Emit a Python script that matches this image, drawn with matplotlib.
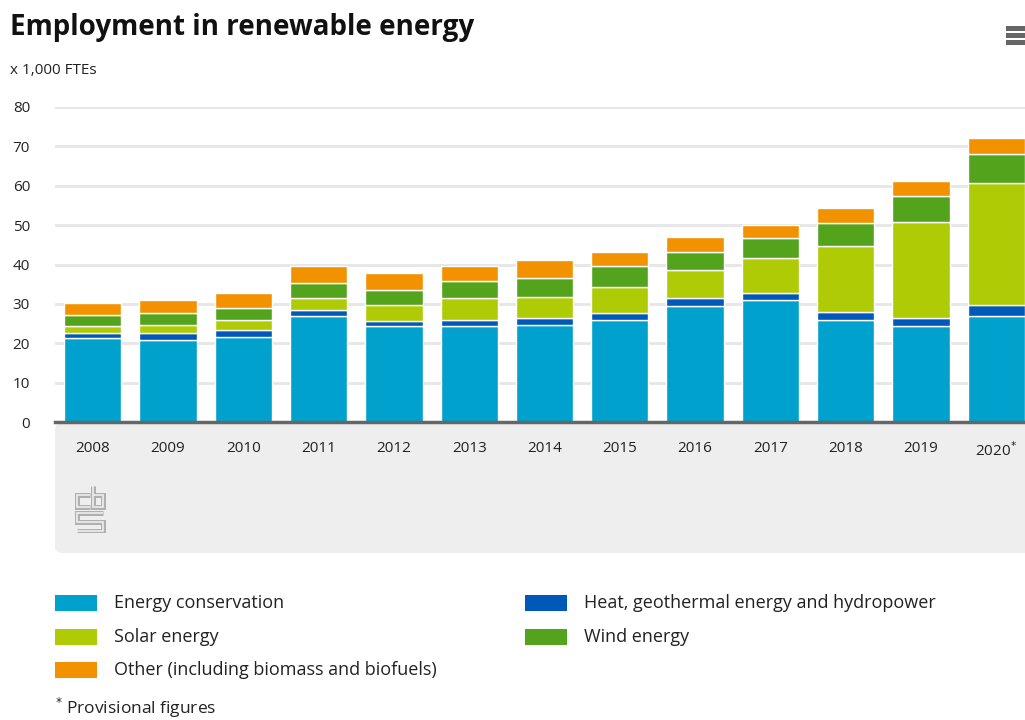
import numpy as np
import matplotlib.pyplot as plt
from matplotlib.patches import FancyBboxPatch, Rectangle

plt.rcParams['font.family'] = ['Liberation Sans Narrow', 'Open Sans', 'DejaVu Sans']

years = ['2008', '2009', '2010', '2011', '2012', '2013', '2014',
         '2015', '2016', '2017', '2018', '2019', '2020']

# employment, x 1,000 FTEs
conservation = [21.3, 20.9, 21.7, 26.8, 24.3, 24.3, 24.7, 26.0, 29.4, 31.1, 26.0, 24.3, 26.8]
heat = [1.4, 1.6, 1.6, 1.6, 1.3, 1.6, 1.6, 1.8, 2.0, 1.6, 2.0, 2.0, 2.9]
solar = [1.6, 2.1, 2.7, 3.0, 4.2, 5.5, 5.5, 6.6, 7.2, 8.9, 16.8, 24.4, 31.0]
wind = [2.9, 3.0, 2.9, 3.8, 3.8, 4.3, 4.7, 5.1, 4.7, 5.1, 5.7, 6.8, 7.4]
other = [3.0, 3.3, 3.8, 4.3, 4.3, 3.8, 4.7, 3.8, 3.8, 3.4, 3.8, 3.6, 4.1]

series = [
    ('Energy conservation', conservation, '#00a1cd'),
    ('Heat, geothermal energy and hydropower', heat, '#0058b8'),
    ('Solar energy', solar, '#afcb05'),
    ('Wind energy', wind, '#53a31d'),
    ('Other (including biomass and biofuels)', other, '#f39200'),
]

W, H = 1025, 720
fig = plt.figure(figsize=(W / 100, H / 100), dpi=100)

def fx(px):
    return px / W

def fy(py):
    return 1 - py / H

# grey band under the x axis
band = FancyBboxPatch((fx(55), fy(553)), fx(1060) - fx(55), fy(423) - fy(553),
                      boxstyle='round,pad=0,rounding_size=0.008',
                      transform=fig.transFigure, facecolor='#eeeeee',
                      edgecolor='none', zorder=-5)
fig.patches.append(band)

ax = fig.add_axes([fx(55), fy(422), fx(1034) - fx(55), fy(107) - fy(422)])
ax.set_facecolor('none')
x = np.arange(len(years))
bottom = np.zeros(len(years))
for name, vals, col in series:
    ax.bar(x, vals, width=0.76, bottom=bottom, color=col, edgecolor='white',
           linewidth=1.0, zorder=3)
    bottom += np.array(vals)

ax.set_xlim(-0.5, len(years) - 0.5)
ax.set_ylim(0, 80)
ax.set_yticks(np.arange(0, 81, 10))
ax.yaxis.grid(True, color='#e6e6e6', linewidth=2, zorder=0)
ax.set_axisbelow(True)
for s in ['top', 'right', 'left']:
    ax.spines[s].set_visible(False)
ax.spines['bottom'].set_color('#666666')
ax.spines['bottom'].set_linewidth(2.5)
ax.spines['bottom'].set_zorder(5)
ax.tick_params(axis='y', length=0, pad=18, labelsize=11, labelcolor='#222222')
ax.tick_params(axis='x', length=0, pad=14, labelsize=11, labelcolor='#222222')
xlabels = years[:-1] + [years[-1] + '$^{*}$']
ax.set_xticks(x)
ax.set_xticklabels(xlabels)

fig.text(fx(10), fy(28), 'Employment in renewable energy', fontsize=20,
         fontweight='bold', color='#111111', va='center', ha='left')
fig.text(fx(10), fy(70), 'x 1,000 FTEs', fontsize=11, color='#222222',
         va='center', ha='left')

# menu icon
for py in [28, 35, 42]:
    fig.patches.append(Rectangle((fx(1006), fy(py + 2.5)), fx(20), fy(0) - fy(5),
                                 transform=fig.transFigure, facecolor='#666666',
                                 edgecolor='none'))

# cbs logo, drawn as outlined strokes
lx = fig.add_axes([fx(75), fy(533), fx(31), fy(0) - fy(48)])
lx.set_xlim(0, 31)
lx.set_ylim(48, 0)
lx.axis('off')
logo_paths = [
    ([15, 2, 2, 15, 15, 15], [10, 10, 22, 22, 22, 22]),
    ([18, 18, 28, 28, 18], [1, 22, 22, 10, 10]),
    ([28, 2, 2, 28, 28, 2], [28, 28, 37, 37, 46, 46]),
]
for xs, ys in logo_paths:
    lx.plot(xs, ys, color='#b0b0b0', lw=3.6, solid_joinstyle='miter',
            solid_capstyle='butt')
    lx.plot(xs, ys, color='#eeeeee', lw=1.2, solid_joinstyle='miter',
            solid_capstyle='butt')

# legend
legend_pos = [(55, 603), (525, 603), (55, 637), (525, 637), (55, 670)]
for (px, py), (name, vals, col) in zip(legend_pos, series):
    fig.patches.append(Rectangle((fx(px), fy(py + 8)), fx(42), fy(0) - fy(16),
                                 transform=fig.transFigure, facecolor=col,
                                 edgecolor='none'))
    fig.text(fx(px + 59), fy(py), name, fontsize=13, color='#222222',
             va='center', ha='left')

fig.text(fx(55), fy(708), '$^{*}$ Provisional figures', fontsize=12.5,
         color='#222222', va='center', ha='left')

fig.savefig('out.png', dpi=100)
